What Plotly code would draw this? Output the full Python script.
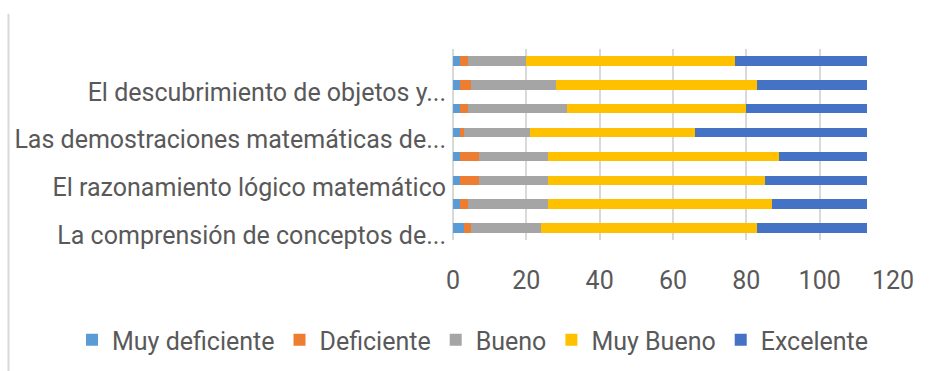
import plotly.graph_objects as go

# Survey items, listed from the bottom bar to the top bar
categories = [
    "La comprensión de conceptos de...",
    "Ítem 2",
    "El razonamiento lógico matemático",
    "Ítem 4",
    "Las demostraciones matemáticas de...",
    "Ítem 6",
    "El descubrimiento de objetos y...",
    "Ítem 8",
]
# Only every other item label fits on the axis
shown_labels = categories[::2]

series_names = ["Muy deficiente", "Deficiente", "Bueno", "Muy Bueno", "Excelente"]
muy_deficiente = [3, 2, 2, 2, 2, 2, 2, 2]
deficiente = [2, 2, 5, 5, 1, 2, 3, 2]
bueno = [19, 22, 19, 19, 18, 27, 23, 16]
muy_bueno = [59, 61, 59, 63, 45, 49, 55, 57]
excelente = [30, 26, 28, 24, 47, 33, 30, 36]
series_values = [muy_deficiente, deficiente, bueno, muy_bueno, excelente]

x_ticks = [0, 20, 40, 60, 80, 100, 120]

colors = ["#5B9BD5", "#ED7D31", "#A5A5A5", "#FFC000", "#4472C4"]

W, H = 936, 371
ML, MR, MT, MB = 453, 43, 49, 131
FONT = "Roboto"
FS = 25
TXT = "#595959"

fig = go.Figure()
for name, vals, col in zip(series_names, series_values, colors):
    fig.add_trace(go.Bar(
        y=categories, x=vals, name=name, orientation="h",
        marker=dict(color=col, line=dict(width=0)),
    ))

def px_to_paper_x(px):
    return (px - ML) / (W - ML - MR)

def px_to_paper_y(py):
    return (H - MB - py) / (H - MT - MB)

fig.update_layout(
    width=W, height=H,
    margin=dict(l=ML, r=MR, t=MT, b=MB, autoexpand=False),
    barmode="stack", bargap=0.6,
    plot_bgcolor="white", paper_bgcolor="white",
    font=dict(family=FONT, size=FS, color=TXT),
    showlegend=True,
    legend=dict(
        orientation="h", traceorder="normal",
        x=px_to_paper_x(72), xref="paper", xanchor="left",
        y=px_to_paper_y(340), yanchor="middle",
        bgcolor="rgba(0,0,0,0)",
        font=dict(family=FONT, size=FS, color=TXT),
        itemwidth=30, tracegroupgap=0,
    ),
    shapes=[dict(
        type="line", xref="paper", yref="paper",
        x0=px_to_paper_x(8.5), x1=px_to_paper_x(8.5),
        y0=px_to_paper_y(14), y1=px_to_paper_y(H),
        line=dict(color="#D9D9D9", width=2),
    )],
)
fig.update_xaxes(
    range=[0, 120], tickvals=x_ticks, showgrid=True,
    gridcolor="#D9D9D9", gridwidth=1.5, zeroline=True,
    zerolinecolor="#D9D9D9", zerolinewidth=1.5, showline=False,
    ticks="", ticklabelstandoff=23,
    tickfont=dict(family=FONT, size=FS, color=TXT),
)
fig.update_yaxes(
    categoryorder="array", categoryarray=categories,
    tickmode="array", tickvals=shown_labels, ticktext=shown_labels,
    showgrid=False, zeroline=False, showline=False, ticks="",
    ticklabelshift=7, ticklabelstandoff=6,
    tickfont=dict(family=FONT, size=FS, color=TXT),
)

fig.write_html("out.html")
